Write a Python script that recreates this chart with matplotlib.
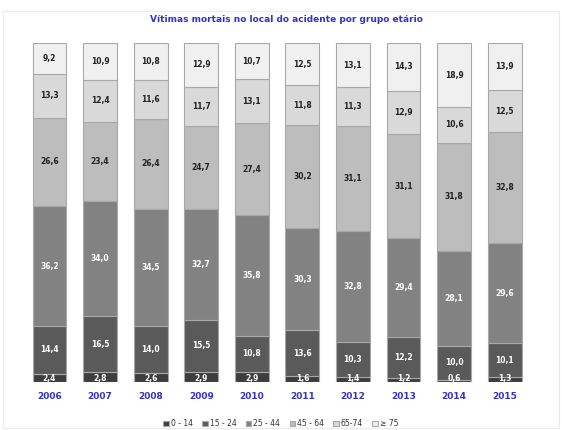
import matplotlib
matplotlib.use("Agg")
import matplotlib.pyplot as plt
import numpy as np

years = ["2006", "2007", "2008", "2009", "2010", "2011", "2012", "2013", "2014", "2015"]
groups = ["0 - 14", "15 - 24", "25 - 44", "45 - 64", "65-74", "≥ 75"]
g0_14 = [2.4, 2.8, 2.6, 2.9, 2.9, 1.6, 1.4, 1.2, 0.6, 1.3]
g15_24 = [14.4, 16.5, 14.0, 15.5, 10.8, 13.6, 10.3, 12.2, 10.0, 10.1]
g25_44 = [36.2, 34.0, 34.5, 32.7, 35.8, 30.3, 32.8, 29.4, 28.1, 29.6]
g45_64 = [26.6, 23.4, 26.4, 24.7, 27.4, 30.2, 31.1, 31.1, 31.8, 32.8]
g65_74 = [13.3, 12.4, 11.6, 11.7, 13.1, 11.8, 11.3, 12.9, 10.6, 12.5]
g75 = [9.2, 10.9, 10.8, 12.9, 10.7, 12.5, 13.1, 14.3, 18.9, 13.9]

series = [g0_14, g15_24, g25_44, g45_64, g65_74, g75]
colors = ["#3d3d3d", "#5a5a5a", "#828282", "#bdbdbd", "#d9d9d9", "#f0f0f0"]
txtcol = ["white", "white", "white", "#222222", "#222222", "#222222"]

data = np.array(series, dtype=float)
totals = data.sum(axis=0)
pct = data / totals * 100

fig = plt.figure(figsize=(5.62, 4.30), dpi=100)
ax = fig.add_axes([0.043, 0.112, 0.90, 0.788])
x = np.arange(len(years))
bottom = np.zeros(len(years))
for i in range(len(series)):
    ax.bar(x, pct[i], 0.67, bottom=bottom, color=colors[i],
           edgecolor="#a8a8a8", linewidth=0.8, label=groups[i])
    for j in range(len(years)):
        ypos = bottom[j] + pct[i][j] / 2 if pct[i][j] > 3 else bottom[j] + 1.0
        ax.text(x[j], ypos, f"{series[i][j]:.1f}".replace(".", ","),
                ha="center", va="center", fontsize=5.5, fontweight="bold",
                color=txtcol[i])
    bottom += pct[i]

ax.set_xlim(-0.5, 9.5)
ax.set_ylim(0, 100)
ax.set_xticks(x)
ax.set_xticklabels(years, fontsize=6.5, fontweight="bold", color="#3333cc")
ax.tick_params(axis="x", length=0, pad=7)
ax.set_yticks([])
for s in ax.spines.values():
    s.set_visible(False)

fig.text(0.51, 0.955, "Vítimas mortais no local do acidente por grupo etário",
         ha="center", va="center", fontsize=6.5, fontweight="bold", color="#3333cc")

leg = fig.legend(loc="lower center", bbox_to_anchor=(0.5, -0.012), ncol=6,
                 frameon=False, fontsize=5.5, handlelength=0.7, handleheight=0.7,
                 handletextpad=0.3, columnspacing=1.2)
for t in leg.get_texts():
    t.set_color("#333333")

fig.patches.append(plt.Rectangle((0.005, 0.005), 0.99, 0.97, transform=fig.transFigure,
                                 fill=False, edgecolor="#ececec", linewidth=0.8))
fig.savefig("out.png", dpi=100, facecolor="white")
